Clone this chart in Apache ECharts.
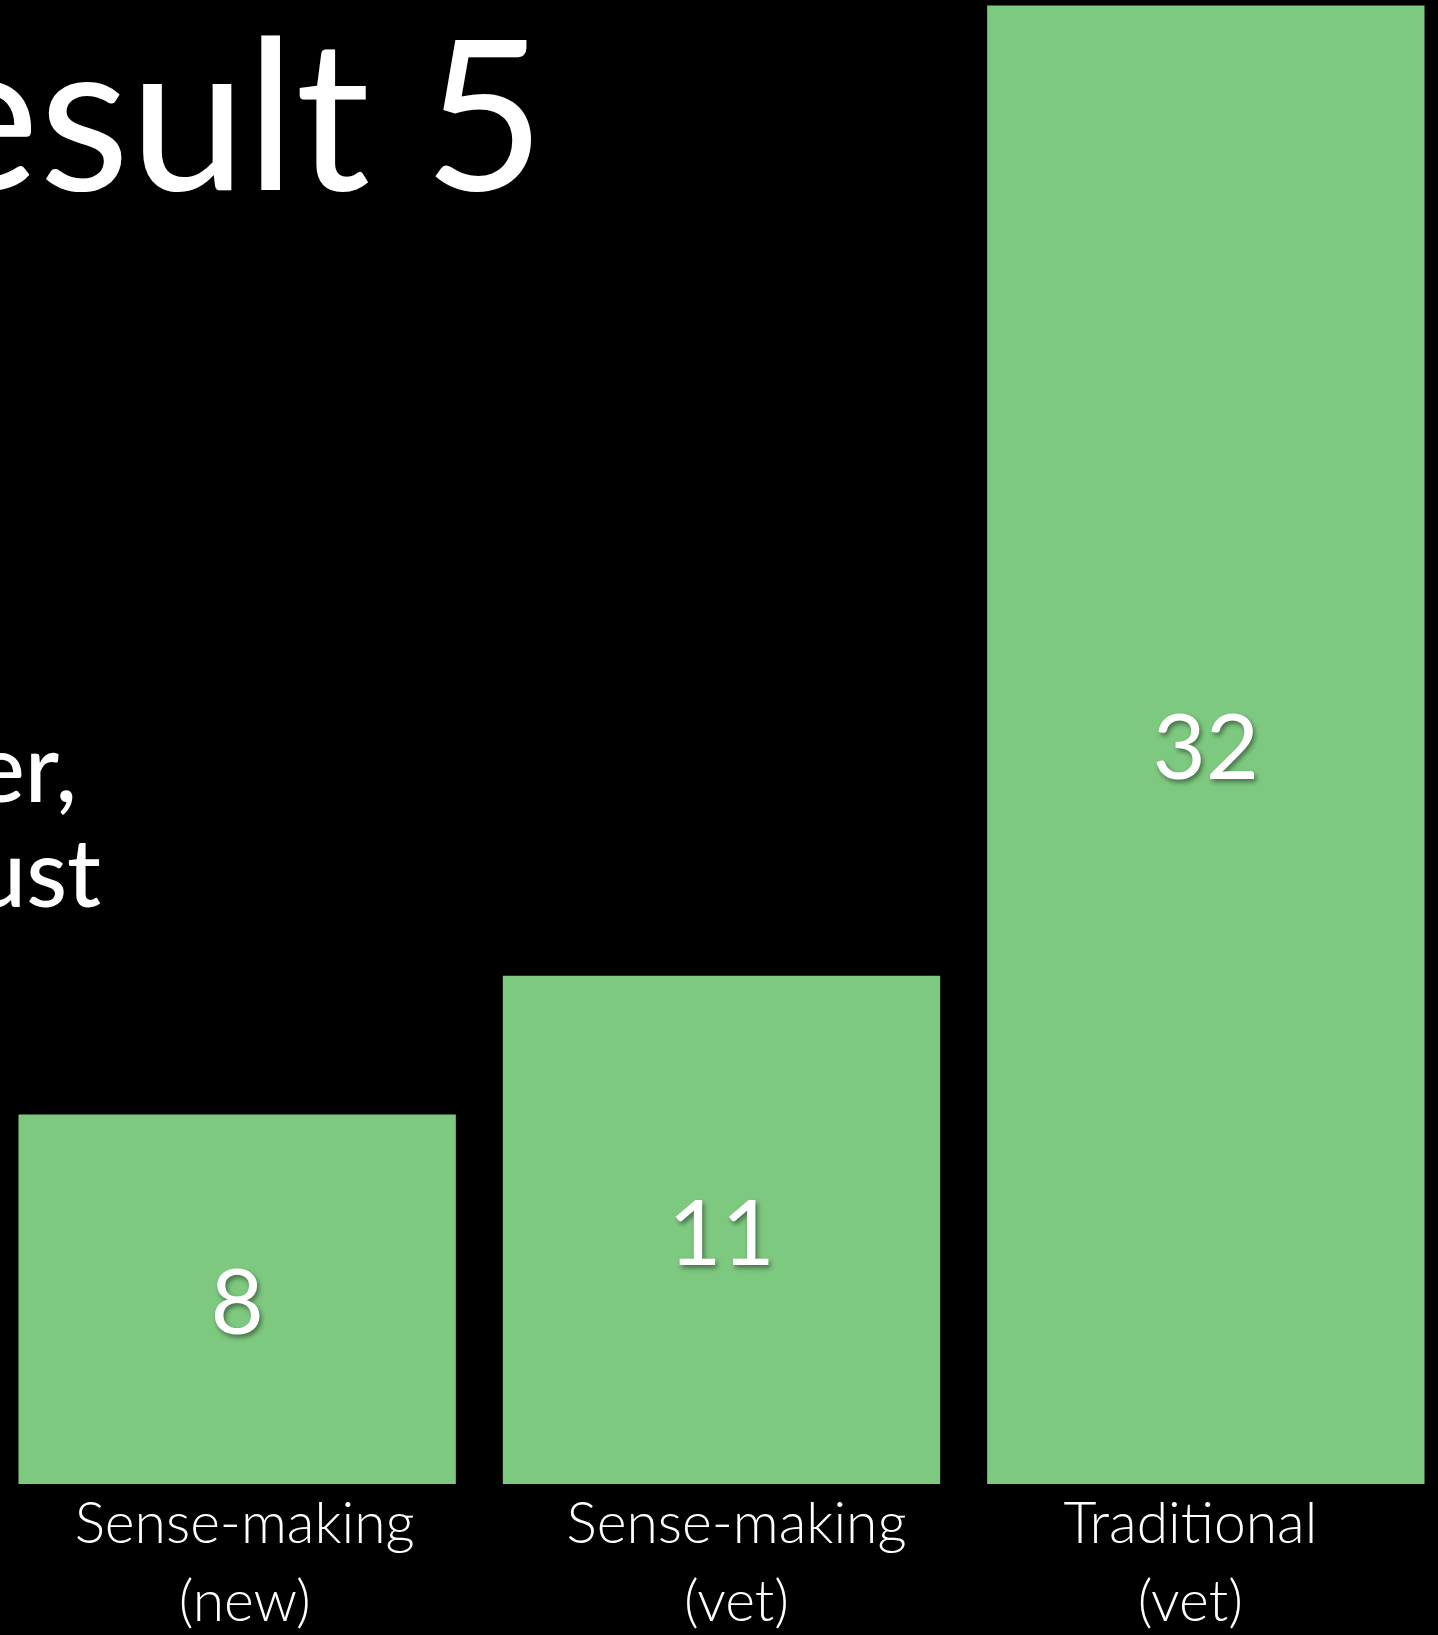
<!DOCTYPE html>
<html>
<head>
<meta charset="utf-8">
<script src="https://cdn.jsdelivr.net/npm/echarts@6/dist/echarts.min.js"></script>
<style>
html,body{margin:0;padding:0;background:#000;}
#chart{width:1438px;height:1635px;}
</style>
</head>
<body>
<div id="chart"></div>
<script>
const categories = ['Sense-making\n(new)', 'Sense-making\n(vet)', 'Traditional\n(vet)'];
const counts = [8, 11, 32];
const titleText = 'Result 5';
const bodyFragments = ['er,', 'ust'];

const chart = echarts.init(document.getElementById('chart'), null, {renderer: 'canvas'});
const FONT = 'Lato, "Open Sans", "DejaVu Sans", sans-serif';

const catStyle = (padding) => ({
  color: '#ffffff',
  fontFamily: FONT,
  fontWeight: 300,
  fontSize: 57,
  lineHeight: 78,
  padding: padding
});

chart.setOption({
  backgroundColor: '#000000',
  animation: false,
  grid: {left: -5, right: -10, top: 5.5, bottom: 151, containLabel: false, outerBoundsMode: 'none'},
  xAxis: {
    type: 'category',
    data: categories,
    axisLine: {show: false},
    axisTick: {show: false},
    axisLabel: {
      color: '#ffffff',
      fontFamily: FONT,
      fontWeight: 300,
      fontSize: 57,
      lineHeight: 78,
      margin: 2,
      interval: 0,
      formatter: (value, index) => '{c' + index + '|' + value + '}',
      rich: {
        c0: catStyle([0, 0, 0, 15]),
        c1: catStyle([0, 0, 0, 30]),
        c2: catStyle([0, 31, 0, 0])
      }
    }
  },
  yAxis: {
    type: 'value',
    min: 0,
    max: 32,
    show: false,
    splitLine: {show: false}
  },
  series: [{
    type: 'bar',
    data: counts,
    barCategoryGap: '9.7%',
    itemStyle: {color: '#7ec980'},
    label: {
      show: true,
      position: 'inside',
      offset: [0, 5],
      color: '#ffffff',
      fontFamily: FONT,
      fontSize: 92,
      textShadowColor: 'rgba(0,0,0,0.45)',
      textShadowBlur: 5,
      textShadowOffsetX: 2,
      textShadowOffsetY: 3
    }
  }],
  graphic: [
    {
      type: 'text',
      style: {
        x: 545, y: 123,
        text: titleText,
        fill: '#ffffff',
        font: '209px ' + FONT,
        align: 'right',
        verticalAlign: 'middle'
      }
    },
    {
      type: 'text',
      style: {
        x: 77, y: 772,
        text: bodyFragments[0],
        fill: '#ffffff',
        font: '500 94px ' + FONT,
        align: 'right',
        verticalAlign: 'middle'
      }
    },
    {
      type: 'text',
      style: {
        x: 101, y: 877,
        text: bodyFragments[1],
        fill: '#ffffff',
        font: '500 94px ' + FONT,
        align: 'right',
        verticalAlign: 'middle'
      }
    }
  ]
});
</script>
</body>
</html>
